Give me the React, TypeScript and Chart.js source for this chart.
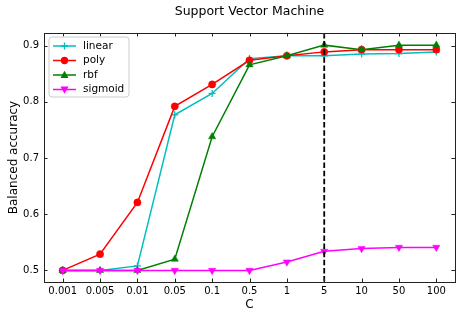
import React, { useEffect, useRef } from 'react';
import { Chart, registerables } from 'chart.js';

Chart.register(...registerables);

const categories = ['0.001', '0.005', '0.01', '0.05', '0.1', '0.5', '1', '5', '10', '50', '100'];
const linearValues = [0.5, 0.5, 0.508, 0.777, 0.815, 0.877, 0.882, 0.882, 0.885, 0.886, 0.889];
const polyValues = [0.5, 0.529, 0.621, 0.792, 0.831, 0.874, 0.882, 0.889, 0.893, 0.893, 0.893];
const rbfValues = [0.5, 0.5, 0.5, 0.52, 0.738, 0.866, 0.882, 0.901, 0.893, 0.901, 0.901];
const sigmoidValues = [0.5, 0.5, 0.5, 0.5, 0.5, 0.5, 0.515, 0.534, 0.539, 0.541, 0.541];
const yTicks = [0.5, 0.6, 0.7, 0.8, 0.9];
const bestC = '5';
const seriesNames = ['linear', 'poly', 'rbf', 'sigmoid'];
const seriesColors = ['#00BFBF', '#FF0000', '#008000', '#FF00FF'];

const FONT = "'DejaVu Sans', sans-serif";

function drawMarker(ctx: CanvasRenderingContext2D, kind: number, x: number, y: number, color: string) {
  ctx.save();
  ctx.fillStyle = color;
  ctx.strokeStyle = color;
  ctx.lineWidth = 1.3;
  ctx.beginPath();
  if (kind === 0) {
    ctx.moveTo(x - 3.5, y); ctx.lineTo(x + 3.5, y);
    ctx.moveTo(x, y - 3.5); ctx.lineTo(x, y + 3.5);
    ctx.stroke();
  } else if (kind === 1) {
    ctx.arc(x, y, 3.7, 0, Math.PI * 2);
    ctx.fill();
  } else if (kind === 2) {
    ctx.moveTo(x, y - 4.3); ctx.lineTo(x + 4, y + 3); ctx.lineTo(x - 4, y + 3); ctx.closePath();
    ctx.fill();
  } else {
    ctx.moveTo(x, y + 4.3); ctx.lineTo(x + 4, y - 3); ctx.lineTo(x - 4, y - 3); ctx.closePath();
    ctx.fill();
  }
  ctx.restore();
}

const framePlugin = {
  id: 'frame',
  afterDatasetsDraw(chart: any) {
    const { ctx, chartArea: a, scales } = chart;
    const x = scales.x.getPixelForValue(categories.indexOf(bestC));
    ctx.save();
    ctx.strokeStyle = '#000';
    ctx.lineWidth = 1.8;
    ctx.setLineDash([5.5, 2.6]);
    ctx.beginPath();
    ctx.moveTo(x, a.top);
    ctx.lineTo(x, a.bottom);
    ctx.stroke();
    ctx.restore();
  },
  afterDraw(chart: any) {
    const { ctx, chartArea: a, scales } = chart;
    ctx.save();
    ctx.strokeStyle = '#222';
    ctx.lineWidth = 1;
    ctx.strokeRect(Math.round(a.left) + 0.5, Math.round(a.top) + 0.5, Math.round(a.right - a.left), Math.round(a.bottom - a.top));
    const tl = 3.5;
    ctx.beginPath();
    categories.forEach((_, i) => {
      const px = Math.round(scales.x.getPixelForValue(i)) + 0.5;
      ctx.moveTo(px, a.bottom); ctx.lineTo(px, a.bottom - tl);
      ctx.moveTo(px, a.top); ctx.lineTo(px, a.top + tl);
    });
    yTicks.forEach((v) => {
      const py = Math.round(scales.y.getPixelForValue(v)) + 0.5;
      ctx.moveTo(a.left, py); ctx.lineTo(a.left + tl, py);
      ctx.moveTo(a.right, py); ctx.lineTo(a.right - tl, py);
    });
    ctx.stroke();

    // legend
    const lx = a.left + 5, ly = a.top + 4, lw = 80, lh = 60;
    ctx.beginPath();
    const r = 3;
    ctx.moveTo(lx + r, ly);
    ctx.arcTo(lx + lw, ly, lx + lw, ly + lh, r);
    ctx.arcTo(lx + lw, ly + lh, lx, ly + lh, r);
    ctx.arcTo(lx, ly + lh, lx, ly, r);
    ctx.arcTo(lx, ly, lx + lw, ly, r);
    ctx.closePath();
    ctx.fillStyle = 'rgba(255,255,255,0.85)';
    ctx.fill();
    ctx.strokeStyle = '#cccccc';
    ctx.lineWidth = 1;
    ctx.stroke();
    ctx.font = `10.5px ${FONT}`;
    ctx.textBaseline = 'middle';
    ctx.textAlign = 'left';
    seriesNames.forEach((name, i) => {
      const yy = ly + 9 + i * 14.5;
      ctx.strokeStyle = seriesColors[i];
      ctx.lineWidth = 1.5;
      ctx.beginPath();
      ctx.moveTo(lx + 4, yy); ctx.lineTo(lx + 27, yy);
      ctx.stroke();
      drawMarker(ctx, i, lx + 15.5, yy, seriesColors[i]);
      ctx.fillStyle = '#000';
      ctx.fillText(name, lx + 34, yy);
    });
    ctx.restore();
  },
};

export default function App() {
  const ref = useRef<HTMLCanvasElement>(null);
  useEffect(() => {
    document.body.style.margin = '0';
    const canvas = ref.current!;
    const mk = (label: string, data: number[], color: string, style: any, radius: number, order: number, rotation = 0) => ({
      label, data, borderColor: color, backgroundColor: color, borderWidth: 1.5,
      pointStyle: style, pointRadius: radius, pointRotation: rotation,
      pointBorderColor: color, pointBackgroundColor: color, pointBorderWidth: style === 'cross' ? 1.3 : 0.5,
      tension: 0, fill: false, order,
    });
    const chart = new Chart(canvas, {
      type: 'line',
      data: {
        labels: categories,
        datasets: [
          mk(seriesNames[0], linearValues, seriesColors[0], 'cross', 3.5, 3),
          mk(seriesNames[1], polyValues, seriesColors[1], 'circle', 3.6, 2),
          mk(seriesNames[2], rbfValues, seriesColors[2], 'triangle', 4.2, 1),
          mk(seriesNames[3], sigmoidValues, seriesColors[3], 'triangle', 4.2, 0, 180),
        ],
      },
      options: {
        responsive: false,
        animation: false,
        layout: { padding: { left: 0, right: 9, top: 0, bottom: 0 } },
        plugins: {
          legend: { display: false },
          tooltip: { enabled: false },
          title: {
            display: true,
            fullSize: false,
            text: 'Support Vector Machine',
            color: '#000',
            font: { family: FONT, size: 12.5, weight: 'normal', lineHeight: 1.2 },
            padding: { top: 4.5, bottom: 13.5 },
          },
        },
        scales: {
          x: {
            type: 'category',
            offset: true,
            grid: { display: false, drawTicks: false },
            border: { display: false },
            ticks: { color: '#000', font: { family: FONT, size: 10 }, padding: 3.5, maxRotation: 0, autoSkip: false },
            title: { display: true, text: 'C', color: '#000', font: { family: FONT, size: 12, lineHeight: 1.2 }, padding: { top: 0, bottom: 4.5 } },
            afterFit: (s: any) => { s.height = 35; },
          },
          y: {
            type: 'linear',
            min: 0.4794,
            max: 0.9226,
            grid: { display: false, drawTicks: false },
            border: { display: false },
            afterBuildTicks: (s: any) => { s.ticks = yTicks.map((v) => ({ value: v })); },
            ticks: { color: '#000', font: { family: FONT, size: 10 }, padding: 5, callback: (v: any) => Number(v).toFixed(1) },
            title: { display: true, text: 'Balanced accuracy', color: '#000', font: { family: FONT, size: 12, lineHeight: 1.2 }, padding: { top: 7, bottom: 0 } },
            afterFit: (s: any) => { s.width = 44; },
          },
        },
      },
      plugins: [framePlugin],
    } as any);
    return () => chart.destroy();
  }, []);
  return (
    <div style={{ width: 464, height: 317 }}>
      <canvas ref={ref} width={464} height={317} />
    </div>
  );
}
